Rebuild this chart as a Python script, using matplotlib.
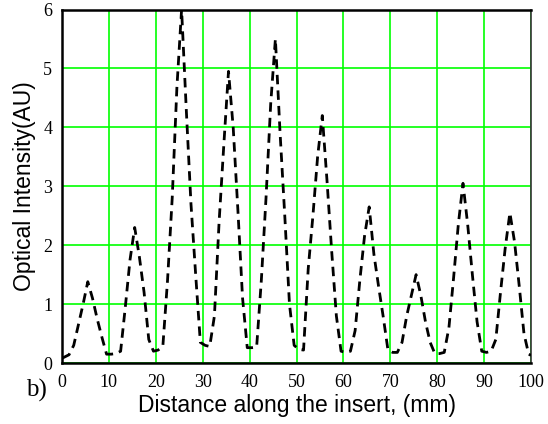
import matplotlib
matplotlib.use("Agg")
import matplotlib.pyplot as plt

# sample positions along the insert (mm)
distance = [0] + [i + 0.5 for i in range(100)] + [100]

# optical intensity (AU)
intensity = [
    0.08,
    0.10, 0.14, 0.30, 0.65, 1.00, 1.38, 1.10, 0.75, 0.44, 0.15,
    0.15, 0.16, 0.20, 0.95, 1.75, 2.30, 1.80, 1.20, 0.40, 0.20,
    0.22, 0.28, 1.40, 2.80, 4.68, 6.00, 4.30, 2.70, 1.50, 0.35,
    0.30, 0.28, 0.80, 2.40, 3.70, 4.95, 4.00, 2.60, 1.10, 0.26,
    0.26, 0.27, 1.40, 2.80, 4.40, 5.50, 3.90, 2.50, 1.00, 0.30,
    0.23, 0.22, 1.60, 2.50, 3.50, 4.20, 3.10, 1.90, 0.80, 0.20,
    0.18, 0.20, 0.55, 1.40, 2.15, 2.65, 1.85, 1.30, 0.78, 0.22,
    0.18, 0.18, 0.35, 0.80, 1.15, 1.50, 1.15, 0.70, 0.35, 0.16,
    0.16, 0.18, 0.60, 1.45, 2.35, 3.05, 2.35, 1.50, 0.70, 0.20,
    0.18, 0.20, 0.40, 1.20, 1.95, 2.55, 2.05, 1.30, 0.50, 0.15,
    0.13,
]

x_ticks = list(range(0, 101, 10))
y_ticks = list(range(0, 7))

fig = plt.figure(figsize=(5.48, 4.24), dpi=100)
ax = fig.add_axes([62 / 548, 1 - 363 / 424, (531 - 62) / 548, (363 - 9.5) / 424])

ax.plot(distance, intensity, color="black", lw=2.0, linestyle=(0, (3.4, 2.2)),
        dash_capstyle="butt", zorder=3)

ax.set_xlim(0, 100)
ax.set_ylim(0, 6)
ax.set_xticks(x_ticks)
ax.set_yticks(y_ticks)
ax.grid(True, color="#00ff00", lw=1.2)
ax.set_axisbelow(True)
ax.tick_params(length=0, labelsize=13, pad=8)
ax.tick_params(axis="y", pad=7)
for lab in ax.get_xticklabels() + ax.get_yticklabels():
    lab.set_fontfamily("Liberation Serif")

for side in ["left", "bottom", "top"]:
    ax.spines[side].set_linewidth(1.8)
    ax.spines[side].set_color("black")
ax.spines["right"].set_linewidth(1.2)
ax.spines["right"].set_color("#333333")

ax.set_xlabel("Distance along the insert, (mm)", fontfamily="Liberation Sans",
              fontsize=16.5, labelpad=2)
ax.set_ylabel("Optical Intensity(AU)", fontfamily="Liberation Sans",
              fontsize=16.5, labelpad=5)

fig.text(36 / 548, 1 - 390 / 424, "b)", fontfamily="Liberation Serif",
         fontsize=18, ha="center", va="center")

fig.savefig("out.png", dpi=100)
